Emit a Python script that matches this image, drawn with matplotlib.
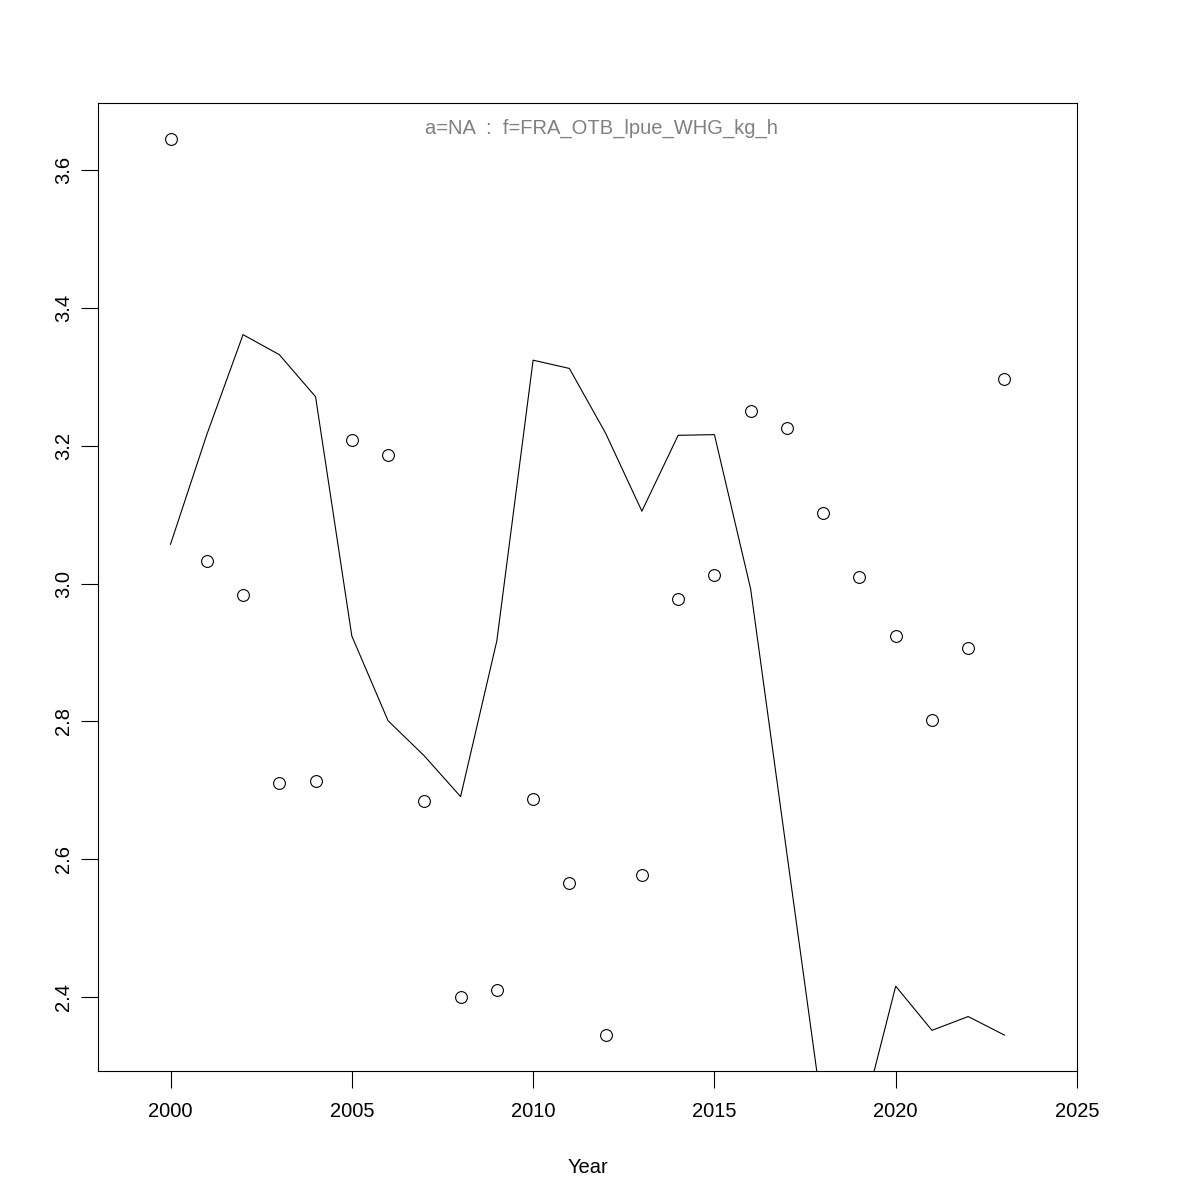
import matplotlib
matplotlib.use('Agg')
import matplotlib.pyplot as plt
import numpy as np

plt.rcParams['font.family'] = ['Liberation Sans', 'DejaVu Sans']

# Observed lpue (points)
years = list(range(2000, 2024))
obs = [3.645, 3.032, 2.983, 2.711, 2.714, 3.208, 3.186, 2.685, 2.401, 2.410,
       2.687, 2.565, 2.345, 2.577, 2.978, 3.012, 3.250, 3.225, 3.102, 3.009,
       2.924, 2.802, 2.907, 3.296]

# Fitted values (line)
fit = [3.057, 3.216, 3.361, 3.332, 3.271, 2.924, 2.801, 2.750, 2.691, 2.917,
       3.324, 3.312, 3.218, 3.105, 3.215, 3.216, 2.992, 2.608, 2.225, 2.209,
       2.416, 2.352, 2.372, 2.345]

title = 'a=NA  :  f=FRA_OTB_lpue_WHG_kg_h'

fig = plt.figure(figsize=(12, 12), dpi=100)
ax = fig.add_axes([98/1200, 129/1200, 979/1200, 968/1200])

ax.plot(years, fit, color='black', lw=0.8)
ax.plot(years, obs, 'o', mfc='none', mec='black', ms=8.5, mew=0.8)

# R-style 4% padding on the observed range
lo, hi = min(obs), max(obs)
pad = 0.04 * (hi - lo)
ax.set_ylim(lo - pad, hi + pad)
ax.set_xlim(1998, 2025)

ax.set_xticks(range(2000, 2026, 5))
ax.set_yticks(np.arange(2.4, 3.61, 0.2))
ax.set_yticklabels(['%.1f' % v for v in np.arange(2.4, 3.61, 0.2)],
                   rotation=90, va='center')
ax.tick_params(length=12, width=0.8, labelsize=14.5)
ax.tick_params(axis='x', pad=10)
ax.tick_params(axis='y', pad=6)
for s in ax.spines.values():
    s.set_linewidth(0.8)

ax.set_xlabel('Year', fontsize=14.5, labelpad=27)
fig.text(601/1200, 1 - 128/1200, title, color='#808080', fontsize=14.5,
         ha='center', va='center')

fig.savefig('out.png', dpi=100)
